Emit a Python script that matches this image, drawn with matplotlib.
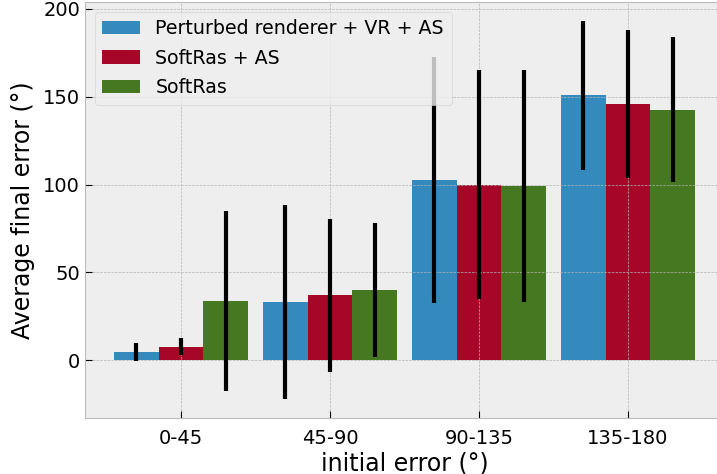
import numpy as np
import matplotlib
matplotlib.use("Agg")
import matplotlib.pyplot as plt

plt.style.use("bmh")

categories = ["0-45", "45-90", "90-135", "135-180"]
series_names = ["Perturbed renderer + VR + AS", "SoftRas + AS", "SoftRas"]
perturbed_mean = [4.7, 33.1, 102.7, 150.8]
perturbed_std = [5.0, 55.3, 69.9, 42.3]
softras_as_mean = [7.8, 37.0, 99.9, 145.9]
softras_as_std = [4.7, 43.4, 65.2, 41.9]
softras_mean = [33.8, 40.1, 99.1, 142.6]
softras_std = [51.0, 38.2, 65.9, 41.3]
colors = ["#348ABD", "#A60628", "#467821"]

means = [perturbed_mean, softras_as_mean, softras_mean]
stds = [perturbed_std, softras_as_std, softras_std]

fig = plt.figure(figsize=(7.17, 4.74), dpi=100)
ax = fig.add_axes([85/717, (474-418.3)/474, (724-85)/717, (418.3-2)/474])

x = np.arange(len(categories))
w = 0.3
for i, (m, s, name, c) in enumerate(zip(means, stds, series_names, colors)):
    ax.bar(x + (i-1)*w, m, w, yerr=s, color=c, label=name,
           error_kw=dict(elinewidth=3, ecolor="black", capsize=0))

ax.set_xticks(x)
ax.set_xticklabels(categories)
ax.tick_params(axis="both", direction="in", labelsize=14, colors="black", length=5)
ax.tick_params(axis="x", pad=8)
ax.set_xlabel("initial error (°)", fontsize=17, labelpad=2)
ax.set_ylabel("Average final error (°)", fontsize=17, labelpad=6)
ax.legend(loc="upper left", fontsize=13.7, labelspacing=0.55)

fig.savefig("out.png", dpi=100)
